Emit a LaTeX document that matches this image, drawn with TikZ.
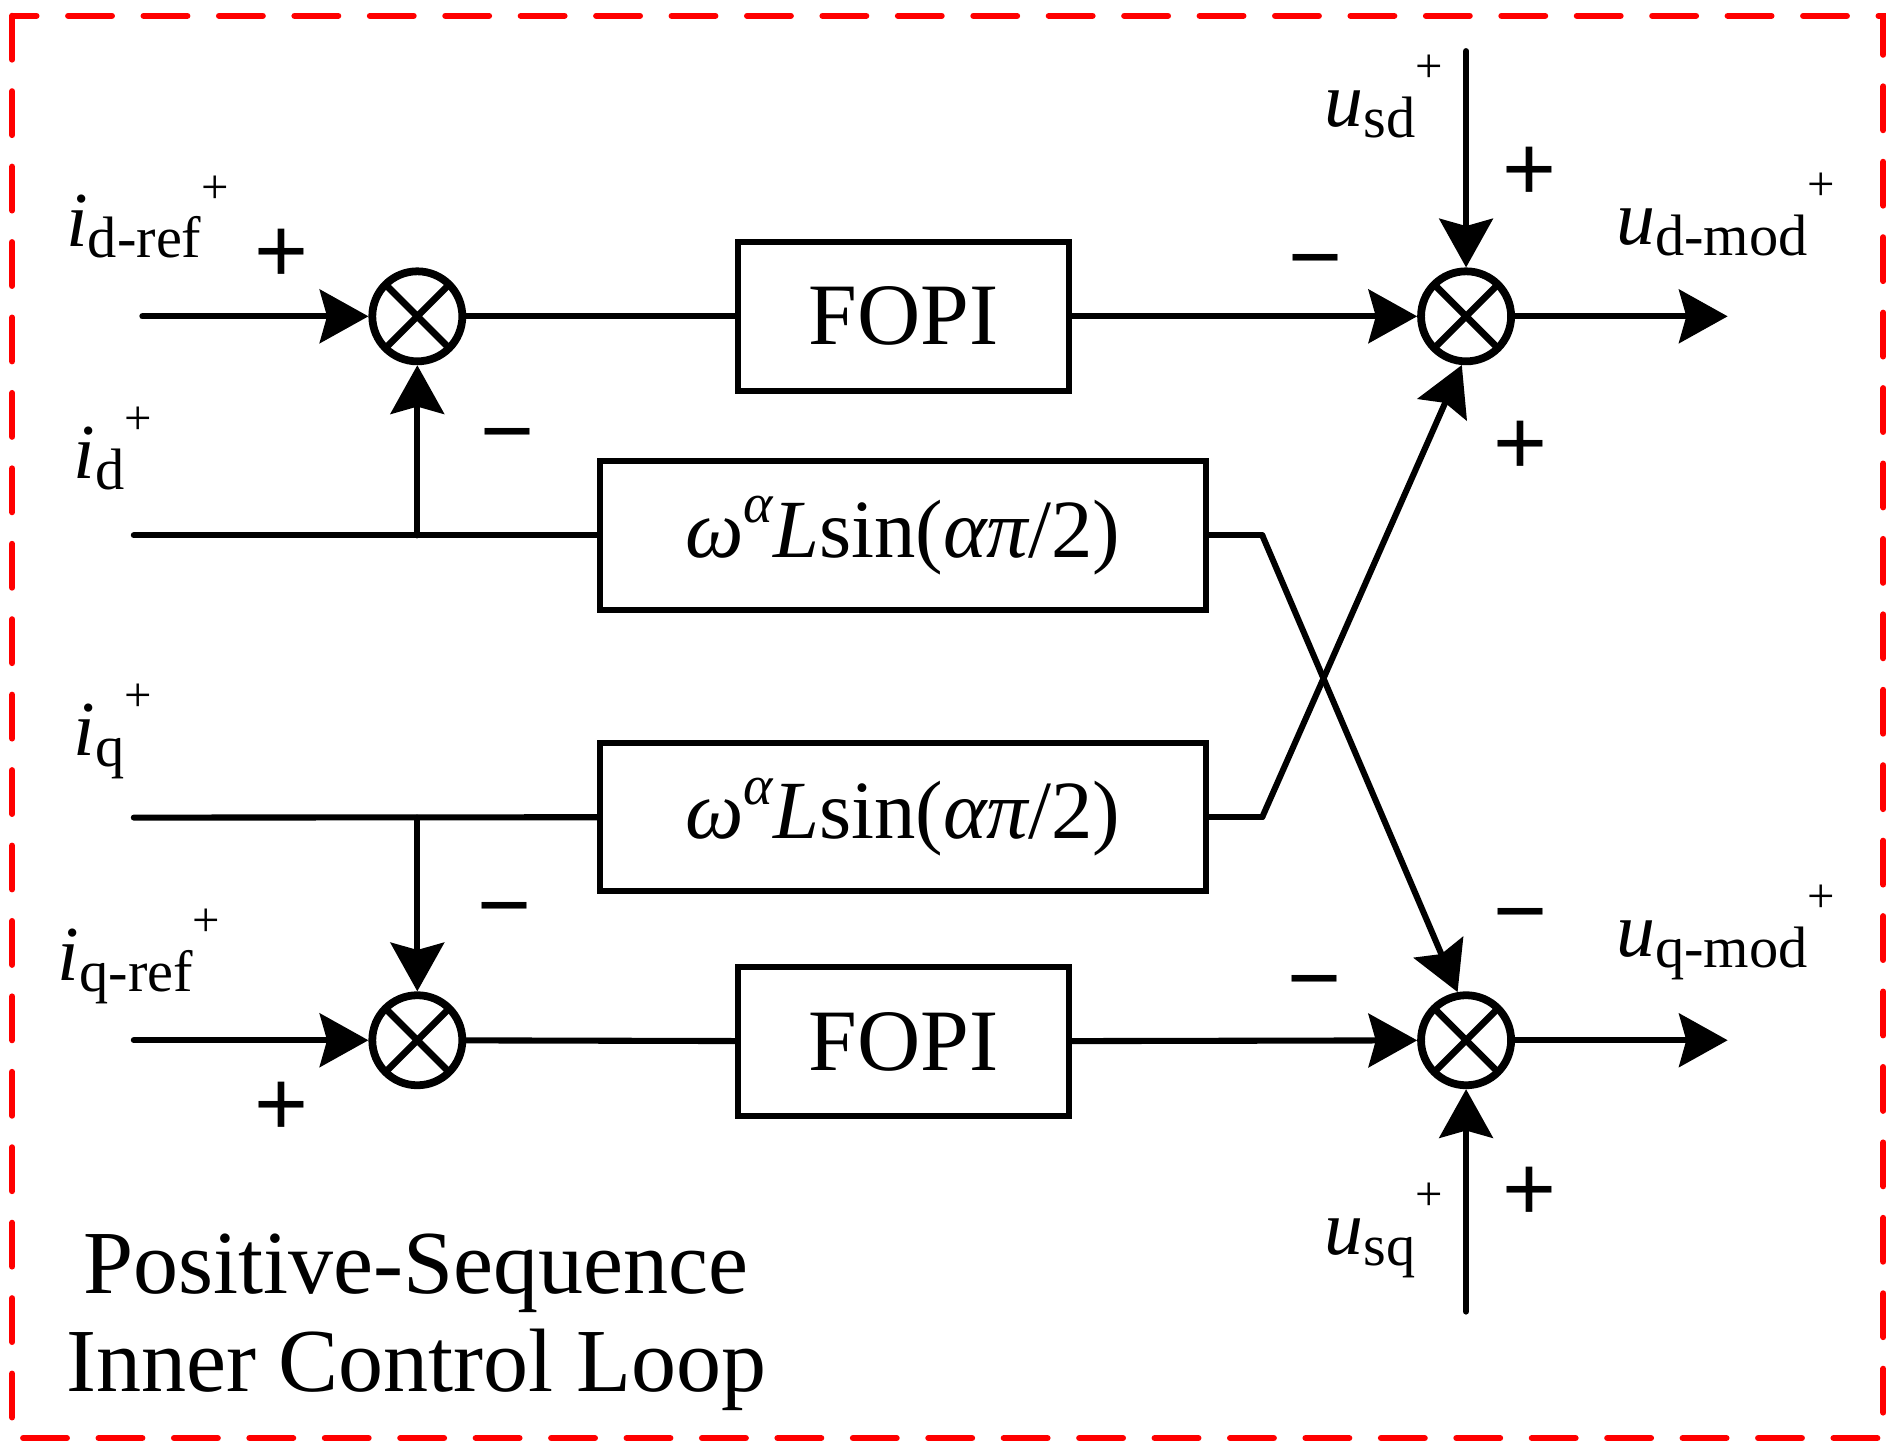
\documentclass[tikz,border=0pt]{standalone}
\usepackage{fontspec}
\setmainfont{Liberation Serif}
\newfontfamily\sansf{Liberation Sans}
\usetikzlibrary{arrows.meta}
\newcommand\varlab[2]{\fontsize{32}{32}\selectfont\textit{#1}\raisebox{-4.5pt}{\fontsize{24}{24}\selectfont #2}\raisebox{18pt}{\fontsize{20}{20}\selectfont +}}
\newcommand\gainlab{{\itshape ω\raisebox{0.42em}{\fontsize{23}{23}\selectfont α}L}sin({\itshape απ}/2)}
\begin{document}
\begin{tikzpicture}[x=0.5pt,y=-0.5pt,line width=2.5pt,line cap=round,
  >={Stealth[length=20pt,width=22pt,inset=3pt]},
  sumj/.style={circle,draw,line width=3.2pt,minimum size=37pt,inner sep=0pt,
    path picture={\draw[line width=2.8pt] (path picture bounding box.north west) -- (path picture bounding box.south east)
      (path picture bounding box.north east) -- (path picture bounding box.south west);}},
  blk/.style={draw,rectangle,inner sep=0pt,minimum height=61pt,font=\fontsize{36}{36}\selectfont},
  sgn/.style={anchor=base,yshift=-12.5pt,font=\sansf\fontsize{38}{38}\selectfont},
  vlab/.style={anchor=base west,inner sep=0pt},
  frame/.style={draw=red,line width=2.5pt,dash pattern=on 18pt off 13pt}]
\useasboundingbox (0,0) rectangle (1560,1188);
\draw[frame] (10,13) rectangle (1548,1182);
% junctions
\node[sumj] (j1) at (343,260) {};
\node[sumj] (j2) at (1205,260) {};
\node[sumj] (j3) at (343,855) {};
\node[sumj] (j4) at (1205,855) {};
% blocks
\node[blk,minimum width=136pt] (f1) at (742.5,260) {FOPI};
\node[blk,minimum width=136pt] (f2) at (742.5,856) {FOPI};
\node[blk,minimum width=249pt,font=\fontsize{34}{34}\selectfont] (o1) at (742,440) {\gainlab};
\node[blk,minimum width=249pt,font=\fontsize{34}{34}\selectfont] (o2) at (742,671.5) {\gainlab};
% coordinates
\coordinate (in1) at (117,260);
\coordinate (in2) at (110,440);
\coordinate (in3) at (110,672);
\coordinate (in4) at (110,855);
\coordinate (out1) at (1420,260);
\coordinate (out2) at (1420,855);
\coordinate (usd) at (1205,42);
\coordinate (usq) at (1205,1078);
\coordinate (br1) at (343,440);
\coordinate (br2) at (343,672);
% connectors
\draw[->] (in1) -- (j1);
\draw (j1) -- (f1);
\draw[->] (f1) -- (j2);
\draw[->] (j2) -- (out1);
\draw[->] (usd) -- (j2);
\draw (in2) -- (o1);
\draw[->] (br1) -- (j1);
\draw (o1.east) -- ++(44,0) coordinate (k1);
\draw (in3) -- (o2);
\draw[->] (br2) -- (j3);
\draw (o2.east) -- ++(44,0) coordinate (k2);
\draw[->] (k1) -- (j4.100);
\draw[->] (k2) -- (j2.265);
\draw[->] (in4) -- (j3);
\draw (j3) -- (f2);
\draw[->] (f2) -- (j4);
\draw[->] (j4) -- (out2);
\draw[->] (usq) -- (j4);
% signs
\node[sgn] (s1) at (231,207) {+};
\node[sgn] (s2) at (417,355) {−};
\node[sgn] (s3) at (1081,212) {−};
\node[sgn] (s4) at (1257,140) {+};
\node[sgn] (s5) at (1250,365) {+};
\node[sgn] (s6) at (415,745) {−};
\node[sgn] (s7) at (231,908) {+};
\node[sgn] (s8) at (1080,805) {−};
\node[sgn] (s9) at (1250,750) {−};
\node[sgn] (s10) at (1257,978) {+};
% variable labels
\node[vlab] (lidref) at (52,203) {\varlab{i}{d-ref}};
\node[vlab] (lid) at (58,393) {\varlab{i}{d}};
\node[vlab] (liq) at (58,621) {\varlab{i}{q}};
\node[vlab] (liqref) at (45,806) {\varlab{i}{q-ref}};
\node[vlab] (lusd) at (1086,104) {\varlab{u}{sd}};
\node[vlab] (ludm) at (1326,201) {\varlab{u}{d-mod}};
\node[vlab] (luqm) at (1326,786) {\varlab{u}{q-mod}};
\node[vlab] (lusq) at (1086,1031) {\varlab{u}{sq}};
% title
\node[anchor=base,font=\fontsize{37}{37}\selectfont] (t1) at (342,1063) {Positive-Sequence};
\node[anchor=base,font=\fontsize{37}{37}\selectfont] (t2) at (342,1144) {Inner Control Loop};
\end{tikzpicture}
\end{document}
